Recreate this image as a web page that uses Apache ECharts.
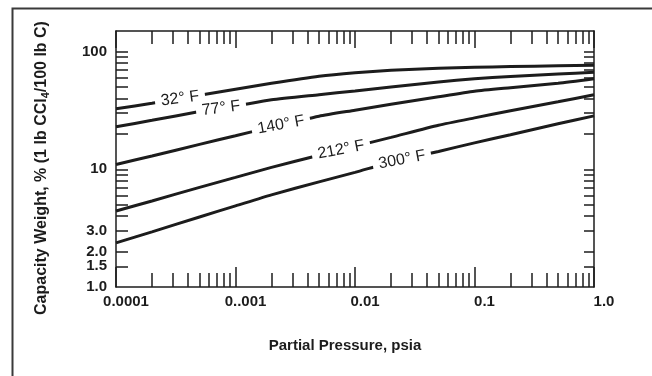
<!DOCTYPE html>
<html><head><meta charset="utf-8">
<script src="https://cdn.jsdelivr.net/npm/echarts@6/dist/echarts.min.js"></script>
<style>html,body{margin:0;padding:0;background:#fff}#c{width:652px;height:376px}</style>
</head><body><div id="c"></div>
<script>
// ---- data ----
const pressure = [0.0001, 0.0002, 0.0005, 0.001, 0.002, 0.005, 0.01, 0.02, 0.05, 0.1, 0.2, 0.5, 1.0];
const cap32F  = [32.7, 36.5, 42.6, 48.0, 53.9, 61.9, 66.3, 69.6, 72.4, 73.8, 74.8, 76.0, 76.8];
const cap77F  = [23.0, 26.1, 31.0, 34.5, 39.0, 43.1, 46.4, 50.1, 55.2, 58.9, 61.6, 64.6, 66.9];
const cap140F = [11.0, 13.0, 16.3, 19.3, 22.9, 28.3, 31.8, 35.7, 41.4, 46.1, 49.4, 53.9, 58.9];
const cap212F = [4.43, 5.39, 7.03, 8.55, 10.4, 13.2, 15.7, 18.7, 23.7, 27.4, 31.5, 37.5, 43.1];
const cap300F = [2.37, 2.94, 3.94, 4.89, 6.07, 7.83, 9.43, 11.5, 14.2, 16.8, 19.7, 24.4, 28.5];
const seriesNames = ['32° F', '77° F', '140° F', '212° F', '300° F'];
const labelPressure = [0.000343, 0.000757, 0.0024, 0.00764, 0.0247];
const xTickValues = [0.0001, 0.001, 0.01, 0.1, 1];
const xTickLabels = ['0.0001', '0..001', '0.01', '0.1', '1.0'];
const yTickValues = [1, 1.5, 2, 3, 10, 100];
const yTickLabels = ['1.0', '1.5', '2.0', '3.0', '10', '100'];
const xAxisTitle = 'Partial Pressure, psia';
const yAxisTitle = ['Capacity Weight, % (1 lb CCl', '4', '/100 lb C)'];

// ---- helpers ----
const curves = [cap32F, cap77F, cap140F, cap212F, cap300F];
function interpLog(xs, ys, x) {
  const lx = Math.log10(x);
  for (let i = 0; i < xs.length - 1; i++) {
    const a = Math.log10(xs[i]), b = Math.log10(xs[i + 1]);
    if (lx >= a && lx <= b) {
      const t = (lx - a) / (b - a);
      return Math.pow(10, Math.log10(ys[i]) * (1 - t) + Math.log10(ys[i + 1]) * t);
    }
  }
  return ys[ys.length - 1];
}
const minorX = [];
for (let d = -4; d <= -1; d++) for (let k = 2; k <= 9; k++) minorX.push(+(k * Math.pow(10, d)).toPrecision(3));
const yTicks = [1.5];
for (let d = 0; d <= 1; d++) for (let k = 2; k <= 9; k++) yTicks.push(k * Math.pow(10, d));
yTicks.push(10, 100);

const FONT = '"Liberation Sans", Arial, Helvetica, sans-serif';
const ink = '#1c1c1c';

function xAxisBase(pos) {
  return {
    type: 'log', logBase: 10, min: 0.0001, max: 1, position: pos, gridIndex: 0,
    axisLine: { show: false }, splitLine: { show: false },
    axisLabel: { show: false }, axisTick: { show: false }, minorTick: { show: false }
  };
}
function yAxisBase(pos) {
  return {
    type: 'log', logBase: 10, min: 1, max: 150, position: pos, gridIndex: 0,
    axisLine: { show: false }, splitLine: { show: false },
    axisLabel: { show: false }, axisTick: { show: false }, minorTick: { show: false }
  };
}
const axisLineStyle = { color: ink, width: 1.5 };

const xAxes = [];
let ax = xAxisBase('bottom');
ax.axisLine = { show: true, onZero: false, lineStyle: axisLineStyle };
ax.axisTick = { show: true, inside: true, length: 20, customValues: xTickValues, lineStyle: { color: ink, width: 1.5 } };
ax.axisLabel = {
  show: true, customValues: xTickValues, margin: 7, fontSize: 15, fontWeight: 'bold', color: ink, fontFamily: FONT,
  padding: [0, 0, 0, 20],
  formatter: v => xTickLabels[Math.round(Math.log10(v)) + 4]
};
ax.name = xAxisTitle; ax.nameLocation = 'middle'; ax.nameGap = 51;
ax.nameTextStyle = { fontSize: 15, fontWeight: 'bold', color: ink, fontFamily: FONT, padding: [0, 20, 0, 0] };
xAxes.push(ax);
ax = xAxisBase('bottom');
ax.axisTick = { show: true, inside: true, length: 14, customValues: minorX, lineStyle: { color: ink, width: 1.5 } };
xAxes.push(ax);
ax = xAxisBase('top');
ax.axisLine = { show: true, onZero: false, lineStyle: axisLineStyle };
ax.axisTick = { show: true, inside: true, length: 17, customValues: xTickValues, lineStyle: { color: ink, width: 1.5 } };
xAxes.push(ax);
ax = xAxisBase('top');
ax.axisTick = { show: true, inside: true, length: 13, customValues: minorX, lineStyle: { color: ink, width: 1.5 } };
xAxes.push(ax);

const yAxes = [];
let ay = yAxisBase('left');
ay.axisLine = { show: true, onZero: false, lineStyle: axisLineStyle };
ay.axisTick = { show: true, inside: true, length: 12, customValues: yTicks, lineStyle: { color: ink, width: 1.5 } };
ay.axisLabel = {
  show: true, customValues: yTickValues, margin: 9, fontSize: 15, fontWeight: 'bold', color: ink, fontFamily: FONT,
  formatter: v => yTickLabels[yTickValues.findIndex(t => Math.abs(t - v) / t < 1e-6)]
};
ay.name = '{a|' + yAxisTitle[0] + '}{s|' + yAxisTitle[1] + '}{a|' + yAxisTitle[2] + '}';
ay.nameLocation = 'middle'; ay.nameGap = 65;
ay.nameTextStyle = {
  color: ink, fontFamily: FONT, padding: [0, 18, 0, 0],
  rich: {
    a: { fontSize: 16, fontWeight: 'bold', color: ink, fontFamily: FONT },
    s: { fontSize: 11, fontWeight: 'bold', color: ink, fontFamily: FONT, verticalAlign: 'bottom', padding: [8, 0, 0, 0] }
  }
};
yAxes.push(ay);
ay = yAxisBase('right');
ay.axisLine = { show: true, onZero: false, lineStyle: axisLineStyle };
ay.axisTick = { show: true, inside: true, length: 10, customValues: yTicks, lineStyle: { color: ink, width: 1.5 } };
yAxes.push(ay);

function buildSeries(angles) {
  return curves.map((ys, i) => ({
    name: seriesNames[i],
    type: 'line',
    xAxisIndex: 0, yAxisIndex: 0,
    data: pressure.map((p, j) => [p, ys[j]]),
    smooth: 0.2,
    symbol: 'none',
    lineStyle: { color: ink, width: 3 },
    silent: true,
    z: 2,
    markPoint: {
      symbol: 'circle', symbolSize: 1,
      itemStyle: { color: 'rgba(0,0,0,0)' },
      animation: false,
      data: [{
        coord: [labelPressure[i], interpLog(pressure, ys, labelPressure[i])],
        label: {
          show: true, position: 'inside', formatter: seriesNames[i],
          fontSize: 16, color: ink, fontFamily: FONT,
          backgroundColor: '#fff', padding: [1, 6],
          rotate: angles ? angles[i] : 0
        }
      }]
    }
  }));
}

const option = {
  backgroundColor: '#fff',
  animation: false,
  grid: { left: 116, right: 58, top: 31, bottom: 89, containLabel: false },
  xAxis: xAxes,
  yAxis: yAxes,
  graphic: [{
    type: 'rect', left: 10, top: 6, silent: true,
    shape: { width: 700, height: 420 },
    style: { fill: 'none', stroke: '#3a3a3a', lineWidth: 2 }
  }],
  series: buildSeries(null)
};
const chart = echarts.init(document.getElementById('c'), null, { renderer: 'canvas' });
chart.setOption(option);
// rotate each label to follow its curve's slope in pixel space
const angles = curves.map((ys, i) => {
  const x0 = labelPressure[i] / 1.4, x1 = labelPressure[i] * 1.4;
  const p0 = chart.convertToPixel({ xAxisIndex: 0, yAxisIndex: 0 }, [x0, interpLog(pressure, ys, x0)]);
  const p1 = chart.convertToPixel({ xAxisIndex: 0, yAxisIndex: 0 }, [x1, interpLog(pressure, ys, x1)]);
  return -Math.atan2(p1[1] - p0[1], p1[0] - p0[0]) * 180 / Math.PI * 0.8;
});
chart.setOption({ series: buildSeries(angles) });
</script>
</body></html>
